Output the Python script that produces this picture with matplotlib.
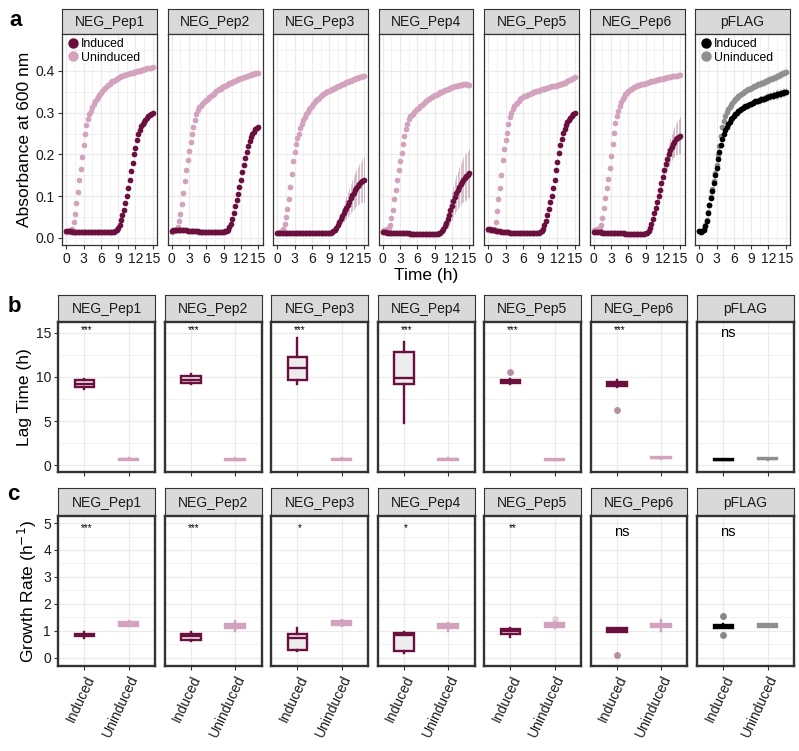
import numpy as np
import matplotlib.pyplot as plt
from matplotlib.lines import Line2D

plt.rcParams['font.family'] = ['Liberation Sans', 'DejaVu Sans']

# ---- data ----
panels = ["NEG_Pep1", "NEG_Pep2", "NEG_Pep3", "NEG_Pep4", "NEG_Pep5", "NEG_Pep6", "pFLAG"]
hours = np.arange(0, 15.01, 0.25)  # sampling times (h)

# absorbance at 600 nm, uninduced
u1 = [0.015, 0.015, 0.016, 0.018, 0.022, 0.038, 0.058, 0.084, 0.110, 0.138,
      0.166, 0.194, 0.222, 0.250, 0.270, 0.285, 0.296, 0.305, 0.313, 0.320,
      0.327, 0.333, 0.338, 0.343, 0.348, 0.352, 0.356, 0.360, 0.364, 0.367,
      0.370, 0.373, 0.375, 0.377, 0.379, 0.381, 0.383, 0.385, 0.387, 0.389,
      0.390, 0.391, 0.392, 0.393, 0.394, 0.395, 0.396, 0.397, 0.398, 0.399,
      0.400, 0.401, 0.402, 0.403, 0.404, 0.405, 0.406, 0.406, 0.407, 0.408, 0.409]
u2 = [0.015, 0.016, 0.017, 0.020, 0.026, 0.040, 0.058, 0.082, 0.108, 0.136,
      0.162, 0.187, 0.208, 0.229, 0.250, 0.265, 0.283, 0.298, 0.307, 0.313,
      0.317, 0.320, 0.324, 0.328, 0.331, 0.334, 0.337, 0.340, 0.343, 0.346,
      0.349, 0.351, 0.354, 0.356, 0.358, 0.361, 0.363, 0.365, 0.367, 0.369,
      0.371, 0.372, 0.374, 0.375, 0.377, 0.378, 0.380, 0.381, 0.383, 0.384,
      0.385, 0.386, 0.388, 0.389, 0.390, 0.391, 0.392, 0.393, 0.394, 0.395, 0.396]
u3 = [0.013, 0.013, 0.014, 0.016, 0.022, 0.034, 0.050, 0.070, 0.094, 0.122,
      0.154, 0.184, 0.207, 0.224, 0.239, 0.250, 0.263, 0.273, 0.282, 0.290,
      0.296, 0.302, 0.308, 0.312, 0.317, 0.321, 0.326, 0.330, 0.333, 0.336,
      0.339, 0.342, 0.344, 0.347, 0.349, 0.351, 0.353, 0.355, 0.357, 0.358,
      0.360, 0.361, 0.363, 0.365, 0.366, 0.368, 0.370, 0.372, 0.373, 0.374,
      0.376, 0.377, 0.379, 0.380, 0.381, 0.383, 0.384, 0.385, 0.386, 0.387, 0.388]
u4 = [0.016, 0.018, 0.020, 0.022, 0.025, 0.032, 0.047, 0.068, 0.094, 0.114,
      0.138, 0.163, 0.184, 0.204, 0.224, 0.245, 0.262, 0.274, 0.284, 0.291,
      0.295, 0.298, 0.302, 0.306, 0.309, 0.312, 0.316, 0.319, 0.322, 0.325,
      0.328, 0.331, 0.334, 0.336, 0.338, 0.340, 0.342, 0.343, 0.345, 0.347,
      0.349, 0.350, 0.352, 0.354, 0.355, 0.357, 0.358, 0.360, 0.361, 0.362,
      0.363, 0.364, 0.365, 0.366, 0.366, 0.367, 0.368, 0.368, 0.368, 0.367, 0.366]
u5 = [0.018, 0.018, 0.018, 0.019, 0.022, 0.038, 0.064, 0.093, 0.120, 0.152,
      0.186, 0.213, 0.235, 0.252, 0.272, 0.289, 0.300, 0.309, 0.315, 0.320,
      0.324, 0.328, 0.332, 0.335, 0.337, 0.339, 0.341, 0.343, 0.344, 0.346,
      0.347, 0.349, 0.350, 0.351, 0.352, 0.353, 0.355, 0.356, 0.357, 0.358,
      0.359, 0.360, 0.361, 0.362, 0.363, 0.363, 0.364, 0.365, 0.366, 0.367,
      0.368, 0.369, 0.371, 0.372, 0.374, 0.376, 0.378, 0.379, 0.381, 0.383, 0.385]
u6 = [0.020, 0.020, 0.021, 0.022, 0.024, 0.030, 0.048, 0.072, 0.096, 0.120,
      0.142, 0.168, 0.196, 0.224, 0.252, 0.275, 0.292, 0.305, 0.317, 0.325,
      0.332, 0.338, 0.344, 0.348, 0.352, 0.355, 0.357, 0.359, 0.361, 0.363,
      0.364, 0.366, 0.367, 0.368, 0.369, 0.370, 0.371, 0.372, 0.373, 0.374,
      0.375, 0.376, 0.377, 0.378, 0.379, 0.380, 0.380, 0.381, 0.382, 0.383,
      0.384, 0.385, 0.385, 0.386, 0.387, 0.387, 0.388, 0.389, 0.389, 0.390, 0.390]
u7 = [0.016, 0.015, 0.017, 0.022, 0.030, 0.043, 0.062, 0.080, 0.098, 0.117,
      0.136, 0.156, 0.176, 0.198, 0.220, 0.245, 0.266, 0.281, 0.293, 0.302,
      0.308, 0.314, 0.319, 0.324, 0.328, 0.332, 0.335, 0.339, 0.342, 0.345,
      0.347, 0.349, 0.352, 0.354, 0.356, 0.358, 0.360, 0.361, 0.363, 0.365,
      0.366, 0.368, 0.369, 0.371, 0.372, 0.374, 0.375, 0.377, 0.378, 0.380,
      0.381, 0.383, 0.384, 0.386, 0.387, 0.389, 0.390, 0.392, 0.394, 0.396, 0.398]

# absorbance at 600 nm, induced
i1 = [0.016, 0.016, 0.016, 0.016, 0.015, 0.015, 0.015, 0.015, 0.015, 0.015,
      0.015, 0.015, 0.015, 0.014, 0.014, 0.014, 0.014, 0.014, 0.014, 0.014,
      0.014, 0.014, 0.014, 0.014, 0.014, 0.014, 0.014, 0.014, 0.014, 0.014,
      0.014, 0.014, 0.015, 0.015, 0.016, 0.018, 0.024, 0.032, 0.042, 0.055,
      0.068, 0.084, 0.100, 0.120, 0.140, 0.160, 0.180, 0.200, 0.216, 0.235,
      0.248, 0.259, 0.268, 0.274, 0.279, 0.283, 0.287, 0.291, 0.294, 0.297, 0.299]
i2 = [0.017, 0.018, 0.019, 0.020, 0.020, 0.020, 0.020, 0.019, 0.019, 0.018,
      0.018, 0.017, 0.017, 0.017, 0.016, 0.016, 0.016, 0.016, 0.016, 0.015,
      0.015, 0.015, 0.015, 0.015, 0.015, 0.015, 0.015, 0.014, 0.014, 0.014,
      0.014, 0.014, 0.014, 0.014, 0.014, 0.014, 0.015, 0.016, 0.017, 0.020,
      0.026, 0.034, 0.045, 0.060, 0.076, 0.090, 0.106, 0.122, 0.140, 0.158,
      0.176, 0.192, 0.206, 0.220, 0.232, 0.241, 0.249, 0.255, 0.260, 0.264, 0.267]
i3 = [0.013, 0.013, 0.013, 0.013, 0.013, 0.013, 0.012, 0.012, 0.012, 0.012,
      0.012, 0.012, 0.012, 0.012, 0.012, 0.012, 0.012, 0.012, 0.012, 0.012,
      0.012, 0.012, 0.012, 0.012, 0.011, 0.011, 0.011, 0.011, 0.011, 0.011,
      0.011, 0.011, 0.011, 0.011, 0.011, 0.011, 0.012, 0.013, 0.015, 0.017,
      0.020, 0.025, 0.031, 0.038, 0.045, 0.052, 0.059, 0.066, 0.073, 0.080,
      0.087, 0.095, 0.102, 0.108, 0.114, 0.120, 0.125, 0.129, 0.133, 0.137, 0.140]
i4 = [0.014, 0.014, 0.014, 0.013, 0.013, 0.013, 0.013, 0.012, 0.012, 0.012,
      0.012, 0.012, 0.011, 0.011, 0.011, 0.011, 0.011, 0.011, 0.011, 0.010,
      0.010, 0.010, 0.010, 0.010, 0.010, 0.010, 0.010, 0.010, 0.010, 0.010,
      0.010, 0.010, 0.010, 0.010, 0.010, 0.010, 0.010, 0.010, 0.010, 0.011,
      0.013, 0.016, 0.021, 0.028, 0.036, 0.045, 0.055, 0.066, 0.077, 0.088,
      0.098, 0.107, 0.115, 0.122, 0.129, 0.135, 0.140, 0.144, 0.148, 0.152, 0.155]
i5 = [0.022, 0.021, 0.020, 0.019, 0.018, 0.017, 0.017, 0.016, 0.016, 0.015,
      0.015, 0.015, 0.014, 0.014, 0.014, 0.013, 0.013, 0.013, 0.013, 0.012,
      0.012, 0.012, 0.012, 0.012, 0.012, 0.011, 0.011, 0.011, 0.011, 0.011,
      0.011, 0.011, 0.011, 0.011, 0.011, 0.012, 0.014, 0.016, 0.022, 0.031,
      0.041, 0.054, 0.070, 0.085, 0.100, 0.120, 0.140, 0.162, 0.183, 0.203,
      0.222, 0.238, 0.251, 0.262, 0.270, 0.277, 0.283, 0.288, 0.292, 0.296, 0.299]
i6 = [0.015, 0.015, 0.014, 0.014, 0.014, 0.014, 0.013, 0.013, 0.013, 0.013,
      0.012, 0.012, 0.012, 0.012, 0.012, 0.011, 0.011, 0.011, 0.011, 0.011,
      0.011, 0.011, 0.010, 0.010, 0.010, 0.010, 0.010, 0.010, 0.010, 0.010,
      0.010, 0.010, 0.010, 0.010, 0.010, 0.010, 0.011, 0.013, 0.017, 0.024,
      0.034, 0.046, 0.059, 0.072, 0.086, 0.100, 0.115, 0.131, 0.147, 0.163,
      0.177, 0.189, 0.200, 0.210, 0.218, 0.225, 0.231, 0.236, 0.240, 0.243, 0.245]
i7 = [0.016, 0.014, 0.016, 0.020, 0.028, 0.040, 0.060, 0.078, 0.095, 0.113,
      0.132, 0.150, 0.168, 0.188, 0.207, 0.222, 0.236, 0.248, 0.258, 0.266,
      0.273, 0.279, 0.284, 0.288, 0.292, 0.296, 0.300, 0.303, 0.306, 0.309,
      0.311, 0.313, 0.315, 0.317, 0.319, 0.321, 0.322, 0.324, 0.325, 0.327,
      0.328, 0.329, 0.331, 0.332, 0.333, 0.334, 0.335, 0.337, 0.338, 0.339,
      0.340, 0.341, 0.342, 0.343, 0.344, 0.345, 0.346, 0.347, 0.348, 0.349, 0.350]

# standard deviation over the last 5 h (t = 10 ... 15 h, 21 points)
sd_tail_i3 = [0.003, 0.006, 0.009, 0.012, 0.015, 0.018, 0.021, 0.024, 0.027, 0.030,
              0.033, 0.035, 0.038, 0.040, 0.042, 0.044, 0.046, 0.048, 0.050, 0.052, 0.054]
sd_tail_i4 = [0.003, 0.006, 0.010, 0.014, 0.018, 0.022, 0.026, 0.030, 0.034, 0.037,
              0.040, 0.043, 0.046, 0.048, 0.050, 0.052, 0.054, 0.055, 0.056, 0.057, 0.058]
sd_tail_i6 = [0.004, 0.006, 0.008, 0.010, 0.012, 0.014, 0.016, 0.018, 0.020, 0.022,
              0.024, 0.026, 0.028, 0.030, 0.032, 0.034, 0.036, 0.038, 0.040, 0.042, 0.044]
sd_tail_i7 = [0.008, 0.008, 0.009, 0.009, 0.009, 0.009, 0.010, 0.010, 0.010, 0.010,
              0.010, 0.010, 0.010, 0.011, 0.011, 0.011, 0.011, 0.011, 0.011, 0.011, 0.011]
sd_tail_u7 = [0.009, 0.009, 0.009, 0.010, 0.010, 0.010, 0.010, 0.010, 0.010, 0.010,
              0.010, 0.010, 0.010, 0.010, 0.010, 0.010, 0.010, 0.010, 0.010, 0.010, 0.010]

uninduced_curves = [u1, u2, u3, u4, u5, u6, u7]
induced_curves = [i1, i2, i3, i4, i5, i6, i7]
induced_sd = [None, None, sd_tail_i3, sd_tail_i4, None, sd_tail_i6, sd_tail_i7]
uninduced_sd = [None, None, None, None, None, None, sd_tail_u7]

# lag time (h): [whisker low, Q1, median, Q3, whisker high]
lag_induced = [[8.6, 8.8, 9.2, 9.7, 9.8], [9.2, 9.35, 9.7, 10.05, 10.3],
               [9.25, 9.6, 11.0, 12.25, 14.4], [4.8, 9.2, 9.9, 12.8, 13.9],
               [9.2, 9.3, 9.5, 9.7, 9.8], [8.9, 9.0, 9.25, 9.45, 9.6],
               [0.55, 0.6, 0.65, 0.72, 0.75]]
lag_uninduced = [[0.6, 0.65, 0.7, 0.75, 0.8], [0.55, 0.6, 0.65, 0.7, 0.8],
                 [0.6, 0.65, 0.7, 0.75, 0.8], [0.6, 0.65, 0.7, 0.75, 0.8],
                 [0.55, 0.6, 0.65, 0.7, 0.75], [0.75, 0.8, 0.85, 0.9, 0.95],
                 [0.65, 0.7, 0.75, 0.8, 0.85]]
lag_induced_out = [[], [], [], [], [10.5], [6.3], []]
lag_uninduced_out = [[], [], [], [], [], [], []]

# growth rate (1/h): [whisker low, Q1, median, Q3, whisker high]
growth_induced = [[0.75, 0.8, 0.85, 0.9, 0.95], [0.62, 0.68, 0.8, 0.9, 0.95],
                  [0.25, 0.3, 0.72, 0.9, 1.1], [0.2, 0.25, 0.85, 0.92, 0.95],
                  [0.78, 0.88, 0.98, 1.08, 1.12], [0.95, 0.97, 1.05, 1.1, 1.12],
                  [1.1, 1.12, 1.17, 1.22, 1.25]]
growth_uninduced = [[1.18, 1.2, 1.26, 1.32, 1.35], [1.0, 1.12, 1.2, 1.27, 1.35],
                    [1.2, 1.22, 1.28, 1.35, 1.4], [1.0, 1.1, 1.17, 1.25, 1.3],
                    [1.12, 1.16, 1.22, 1.28, 1.32], [1.0, 1.15, 1.2, 1.25, 1.4],
                    [1.15, 1.16, 1.2, 1.24, 1.26]]
growth_induced_out = [[], [], [], [], [], [0.1], [1.55, 0.85]]
growth_uninduced_out = [[], [], [], [], [1.45], [], []]

sig_lag = ["***", "***", "***", "***", "***", "***", "ns"]
sig_growth = ["***", "***", "*", "*", "**", "ns", "ns"]
groups = ["Induced", "Uninduced"]

# ---- style ----
maroon, pink = "#6b0f3f", "#d3a2bd"
black, grey = "#000000", "#8f8f8f"
ind_cols = [maroon] * 6 + [black]
unind_cols = [pink] * 6 + [grey]
frame = "#333333"
gridc = "#ebebeb"

W, H = 799, 751
fig = plt.figure(figsize=(W / 100, H / 100), dpi=100)


def px_axes(l, t, w, h):
    return fig.add_axes([l / W, 1 - (t + h) / H, w / W, h / H])


def strip(l, t, w, h, label):
    s = px_axes(l, t, w, h)
    s.set_facecolor("#d9d9d9")
    s.set_xticks([])
    s.set_yticks([])
    for sp in s.spines.values():
        sp.set_color(frame)
        sp.set_linewidth(0.8)
    s.text(0.5, 0.47, label, ha="center", va="center", fontsize=10, color="#1a1a1a")


def style_panel(ax, first, spine_lw):
    ax.set_axisbelow(True)
    ax.grid(True, which="major", color=gridc, lw=0.9)
    ax.grid(True, which="minor", color=gridc, lw=0.45)
    for sp in ax.spines.values():
        sp.set_color(frame)
        sp.set_linewidth(spine_lw)
    ax.tick_params(which="major", length=3, width=0.8, color=frame, labelsize=10,
                   labelcolor="#1a1a1a", pad=2)
    ax.tick_params(which="minor", length=0)
    if not first:
        ax.tick_params(axis="y", left=False, labelleft=False)


# ---- row a: growth curves ----
a_left, a_step, a_w, a_top, a_h = 62, 105.5, 95, 34, 211
for k in range(7):
    l = a_left + k * a_step
    strip(l, 9, a_w, a_top - 9, panels[k])
    ax = px_axes(l, a_top, a_w, a_h)
    for curve, sd, col in [(uninduced_curves[k], uninduced_sd[k], unind_cols[k]),
                           (induced_curves[k], induced_sd[k], ind_cols[k])]:
        y = np.array(curve)
        if sd is not None:
            n = len(sd)
            e = np.array(sd)
            ax.vlines(hours[-n:], y[-n:] - e, y[-n:] + e, color=col, alpha=0.3, lw=0.6)
    ax.plot(hours, uninduced_curves[k], "o", ms=4.1, mec="none", color=unind_cols[k])
    ax.plot(hours, induced_curves[k], "o", ms=4.1, mec="none", color=ind_cols[k])
    ax.set_xlim(-0.75, 15.75)
    ax.set_ylim(-0.0168, 0.4886)
    ax.set_xticks([0, 3, 6, 9, 12, 15])
    ax.set_xticks([1.5, 4.5, 7.5, 10.5, 13.5], minor=True)
    ax.set_yticks([0, 0.1, 0.2, 0.3, 0.4])
    ax.set_yticks([0.05, 0.15, 0.25, 0.35, 0.45], minor=True)
    ax.set_yticklabels(["0.0", "0.1", "0.2", "0.3", "0.4"])
    style_panel(ax, k == 0, 0.9)
    if k == 0:
        ax.set_ylabel("Absorbance at 600 nm", fontsize=12.5, labelpad=3)
    if k in (0, 6):
        handles = [Line2D([], [], ls="none", marker="o", ms=7.5, mec="none", color=ind_cols[k]),
                   Line2D([], [], ls="none", marker="o", ms=7.5, mec="none", color=unind_cols[k])]
        ax.legend(handles, groups, loc="upper left", bbox_to_anchor=(-0.03, 1.02),
                  frameon=False, fontsize=8.8, handlelength=0.9, handletextpad=0.15,
                  labelspacing=0.1, borderpad=0.2)

fig.text(426 / W, 1 - 276 / H, "Time (h)", ha="center", va="center", fontsize=12.5)


# ---- rows b and c: box plots ----
def box_row(top, strip_top, ind_stats, unind_stats, ind_out, unind_out, sig,
            ylim, major, minor, ylabel, sig_y, ns_y, bottom_labels):
    left, step, w, h = 58, 106.5, 97, 150
    for k in range(7):
        l = left + k * step
        strip(l, strip_top, w, top - strip_top, panels[k])
        ax = px_axes(l, top, w, h)
        for pos, st, outs, col in [(1, ind_stats[k], ind_out[k], ind_cols[k]),
                                   (2, unind_stats[k], unind_out[k], unind_cols[k])]:
            stats = [dict(whislo=st[0], q1=st[1], med=st[2], q3=st[3], whishi=st[4],
                          fliers=outs)]
            ax.bxp(stats, positions=[pos], widths=0.45, patch_artist=True, showcaps=False,
                   boxprops=dict(facecolor="#ededed", edgecolor=col, lw=1.7),
                   whiskerprops=dict(color=col, lw=1.7),
                   medianprops=dict(color=col, lw=1.7),
                   flierprops=dict(marker="o", ms=5, mec="none", mfc=col, alpha=0.45))
        ax.set_xlim(0.4, 2.6)
        ax.set_ylim(*ylim)
        ax.set_xticks([1, 2])
        ax.set_yticks(major)
        ax.set_yticks(minor, minor=True)
        style_panel(ax, k == 0, 1.7)
        if bottom_labels:
            ax.set_xticklabels(groups, rotation=65, ha="right", va="top",
                               rotation_mode="anchor", fontsize=10)
        else:
            ax.set_xticklabels([])
        if sig[k] == "ns":
            ax.text(1.1, ns_y, "ns", ha="center", va="center", fontsize=10.5)
        else:
            ax.text(1.05, sig_y, sig[k], ha="center", va="center", fontsize=7)
        if k == 0:
            ax.set_ylabel(ylabel, fontsize=12.5, labelpad=3)


box_row(322, 295, lag_induced, lag_uninduced, lag_induced_out, lag_uninduced_out, sig_lag,
        (-0.75, 16.2), [0, 5, 10, 15], [2.5, 7.5, 12.5], "Lag Time (h)", 15.3, 15.0, False)
box_row(516, 488, growth_induced, growth_uninduced, growth_induced_out, growth_uninduced_out,
        sig_growth, (-0.3, 5.26), [0, 1, 2, 3, 4, 5], [0.5, 1.5, 2.5, 3.5, 4.5],
        "Growth Rate (h$^{-1}$)", 4.8, 4.65, True)

# panel letters
for letter, (x, y) in zip("abc", [(16, 21), (14, 306), (13, 494)]):
    fig.text(x / W, 1 - y / H, letter, ha="center", va="center", fontsize=16,
             fontweight="bold")

fig.savefig("out.png", dpi=100)
